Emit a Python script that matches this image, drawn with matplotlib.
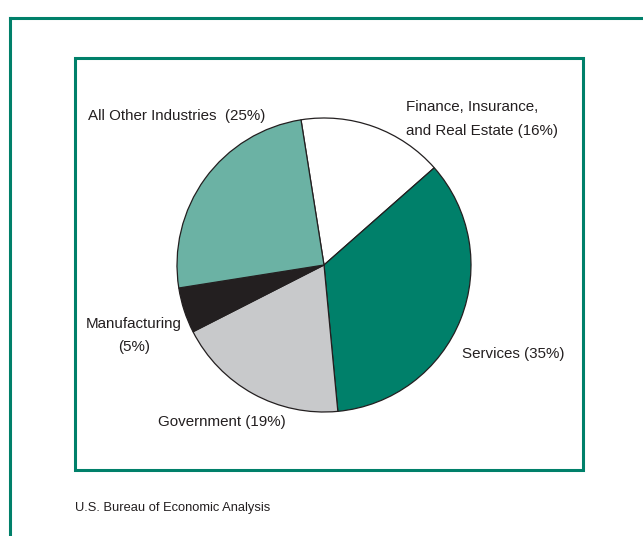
import matplotlib.pyplot as plt
from matplotlib.patches import Rectangle
from matplotlib.lines import Line2D

# shares of GDP by industry, clockwise from the top
industries = ['Finance, Insurance,\nand Real Estate (16%)', 'Services (35%)',
              'Government (19%)', 'Manufacturing\n(5%)', 'All Other Industries  (25%)']
shares = [16, 35, 19, 5, 25]
colors = ['#ffffff', '#00806a', '#c8c9cb', '#231f20', '#6bb2a4']

W, H = 643, 536
green = '#00806a'

fig = plt.figure(figsize=(W / 100, H / 100), dpi=100)
plt.rcParams['font.family'] = ['Liberation Sans', 'DejaVu Sans']

def fx(x):
    return x / W

def fy(y):
    return 1 - y / H

# outer frame (top and left only)
fig.add_artist(Line2D([fx(10), 1.0], [fy(18), fy(18)], color=green, lw=2.2))
fig.add_artist(Line2D([fx(10), fx(10)], [fy(18), 0.0], color=green, lw=2.2))
# inner box
fig.add_artist(Rectangle((fx(75), fy(470)), fx(583) - fx(75), fy(58) - fy(470),
                         fill=False, edgecolor=green, lw=2.2, transform=fig.transFigure))

# pie
cx, cy, r = 324, 265, 147
ax = fig.add_axes([fx(cx - r), fy(cy + r), fx(2 * r), fy(cy - r) - fy(cy + r)])
ax.pie(shares, colors=colors, startangle=99, counterclock=False,
       wedgeprops=dict(edgecolor='#231f20', linewidth=0.9))
ax.set_xlim(-1, 1)
ax.set_ylim(-1, 1)
ax.set_aspect('equal')
ax.axis('off')

fs = 10.9
tc = '#231f20'
fig.text(fx(406), fy(119), industries[0], ha='left', va='center', fontsize=fs,
         color=tc, linespacing=1.85)
fig.text(fx(462), fy(354), industries[1], ha='left', va='center', fontsize=fs, color=tc)
fig.text(fx(222), fy(422), industries[2], ha='center', va='center', fontsize=fs, color=tc)
fig.text(fx(134), fy(335.5), industries[3], ha='center', va='center', fontsize=fs,
         color=tc, linespacing=1.75)
fig.text(fx(88), fy(116), industries[4], ha='left', va='center', fontsize=fs, color=tc)

fig.text(fx(75), fy(508), 'U.S. Bureau of Economic Analysis', ha='left', va='center',
         fontsize=9.3, color=tc)

fig.savefig('out.png', dpi=100)
